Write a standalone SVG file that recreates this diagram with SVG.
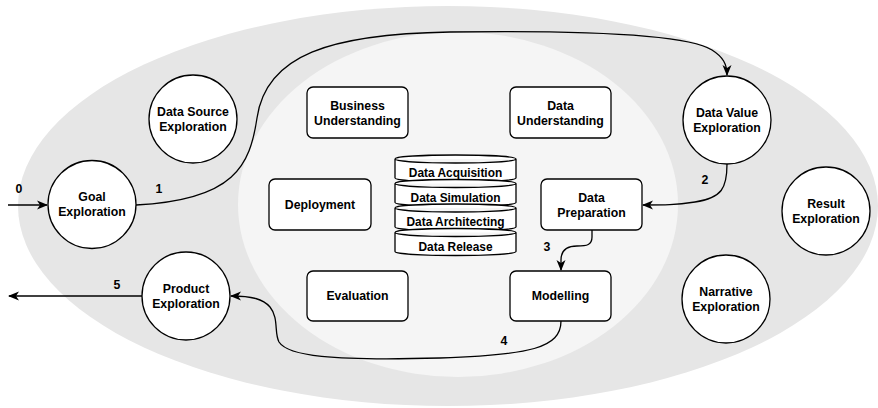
<svg xmlns="http://www.w3.org/2000/svg" width="878" height="408" viewBox="0 0 878 408">
<style>
text{font-family:"Liberation Sans",Arial,Helvetica,sans-serif;font-weight:bold;font-size:12.3px;fill:#000;text-anchor:middle}
.cyl text{font-size:11.9px}
.n{fill:#fff;stroke:#000;stroke-width:1.3}
.e{fill:none;stroke:#000;stroke-width:1.3}
</style>
<defs>
<marker id="ah" markerUnits="userSpaceOnUse" markerWidth="12" markerHeight="10" refX="10" refY="4.5" orient="auto" overflow="visible">
<path d="M0,0 L11,4.5 L0,9 L3,4.5 Z" fill="#000"/>
</marker>
</defs>
<g id="background">
<ellipse cx="448" cy="206" rx="430" ry="200" fill="#e6e6e6"/>
<ellipse cx="458" cy="204.5" rx="220" ry="172.5" fill="#f5f5f5"/>
</g>
<g id="connectors">
<path class="e" d="M8,205 L47,205" marker-end="url(#ah)"/>
<path class="e" d="M136,205 C235,200 250,165 257,118 C266,55 330,34 450,32 C600,30 690,36 712,50 C723,57 727,64 727,75" marker-end="url(#ah)"/>
<path class="e" d="M727,164 C727,188 722,198 695,202 C675,205 665,205 643,205" marker-end="url(#ah)"/>
<path class="e" d="M592,230 L592,237 C592,245 587,246 577,246 C566,246 561,251 561,260 L561,270" marker-end="url(#ah)"/>
<path class="e" d="M561,321 C561,348 530,355 440,358 C330,361 288,356 279,342 C274,333 279,318 270,307 C263,299 252,296 231,296" marker-end="url(#ah)"/>
<path class="e" d="M142,296 L9,296" marker-end="url(#ah)"/>
<text x="19" y="193">0</text>
<text x="159" y="193">1</text>
<text x="705" y="184">2</text>
<text x="547" y="251">3</text>
<text x="504" y="345">4</text>
<text x="117" y="289">5</text>
</g>
<g id="goal"><circle class="n" cx="92" cy="204.5" r="44"/><text x="92" y="201">Goal</text><text x="92" y="216">Exploration</text></g>
<g id="data-source"><circle class="n" cx="193" cy="119" r="44"/><text x="193" y="116">Data Source</text><text x="193" y="131">Exploration</text></g>
<g id="data-value"><circle class="n" cx="727" cy="120" r="44"/><text x="727" y="117">Data Value</text><text x="727" y="132">Exploration</text></g>
<g id="result"><circle class="n" cx="826" cy="211" r="44"/><text x="826" y="208">Result</text><text x="826" y="223">Exploration</text></g>
<g id="narrative"><circle class="n" cx="726" cy="299" r="44"/><text x="726" y="296">Narrative</text><text x="726" y="311">Exploration</text></g>
<g id="product"><circle class="n" cx="186" cy="296" r="44"/><text x="186" y="293">Product</text><text x="186" y="308">Exploration</text></g>
<g id="business"><rect class="n" x="307" y="87" width="101" height="51" rx="6"/><text x="357.5" y="110">Business</text><text x="357.5" y="125">Understanding</text></g>
<g id="data-understanding"><rect class="n" x="510" y="87" width="101" height="51" rx="6"/><text x="560.5" y="110">Data</text><text x="560.5" y="125">Understanding</text></g>
<g id="deployment"><rect class="n" x="269" y="179" width="102" height="51" rx="6"/><text x="320" y="209">Deployment</text></g>
<g id="data-preparation"><rect class="n" x="541" y="179" width="101" height="51" rx="6"/><text x="591.5" y="202">Data</text><text x="591.5" y="217">Preparation</text></g>
<g id="evaluation"><rect class="n" x="307" y="271" width="101" height="50" rx="6"/><text x="357.5" y="300">Evaluation</text></g>
<g id="modelling"><rect class="n" x="510" y="271" width="101" height="50" rx="6"/><text x="560.5" y="300">Modelling</text></g>
<g id="data-stack" class="cyl">
<g id="acquisition"><path class="n" d="M395,159 A60.5,4 0 0 1 516,159 L516,178 A60.5,4 0 0 1 395,178 Z M395,159 A60.5,4 0 0 0 516,159"/><text x="455.5" y="177">Data Acquisition</text></g>
<g id="simulation"><path class="n" d="M395,183.5 A60.5,4 0 0 1 516,183.5 L516,202.5 A60.5,4 0 0 1 395,202.5 Z M395,183.5 A60.5,4 0 0 0 516,183.5"/><text x="455.5" y="201.5">Data Simulation</text></g>
<g id="architecting"><path class="n" d="M395,208 A60.5,4 0 0 1 516,208 L516,227 A60.5,4 0 0 1 395,227 Z M395,208 A60.5,4 0 0 0 516,208"/><text x="455.5" y="226">Data Architecting</text></g>
<g id="release"><path class="n" d="M395,232.5 A60.5,4 0 0 1 516,232.5 L516,251.5 A60.5,4 0 0 1 395,251.5 Z M395,232.5 A60.5,4 0 0 0 516,232.5"/><text x="455.5" y="250.5">Data Release</text></g>
</g>
</svg>
